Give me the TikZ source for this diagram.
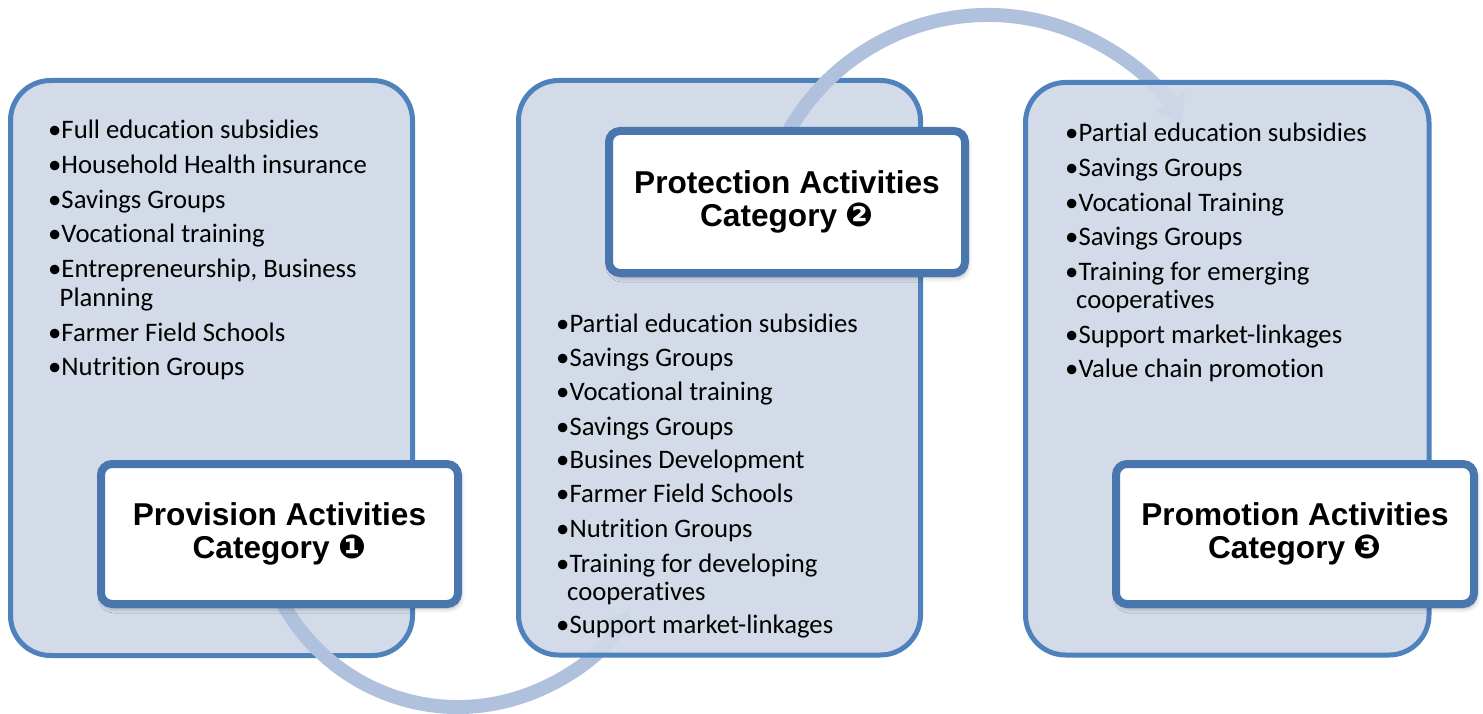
\documentclass[tikz,border=0pt]{standalone}
\usepackage{fontspec}
\setmainfont{Carlito}[Ligatures={NoCommon,NoContextual}]
\newfontfamily\headfont{Liberation Sans}
\newfontfamily\dingfont{DejaVu Sans}
\usetikzlibrary{arrows.meta,shadows.blur}

\definecolor{boxline}{HTML}{4F81BD}
\definecolor{boxfill}{HTML}{CFD8E7}
\definecolor{labline}{HTML}{4A76AE}
\definecolor{band}{HTML}{AFC1DC}

\tikzset{
  panel/.style={draw=boxline, line width=5pt, fill=boxfill, fill opacity=0.92,
    draw opacity=1, rounded corners=40pt, inner sep=0pt},
  label/.style={draw=labline, line width=8pt, fill=white, rounded corners=11pt,
    inner sep=0pt, align=center,
    font=\headfont\bfseries\fontsize{31.6}{33}\selectfont,
    blur shadow={shadow xshift=2pt, shadow yshift=-4pt, shadow blur radius=5pt,
      shadow opacity=35}},
  item/.style={anchor=base west, inner sep=0pt,
    font=\fontsize{26.7}{29}\selectfont},
  flow/.style={draw=band, line width=14pt,
    -{Triangle[width=34pt,length=24pt]}},
}
\newcommand{\dnum}[1]{{\dingfont\fontsize{33}{33}\selectfont #1}}

\begin{document}
\begin{tikzpicture}[x=1pt,y=-1pt]
\useasboundingbox (0,0) rectangle (1483,714);

% first panel and the arrow that leaves it
\node[panel, minimum width=402pt, minimum height=575pt] (boxA) at (211.5,368) {};
\coordinate (hub1) at (458,507);
\draw[flow] ([shift={(165:200)}]hub1) arc[start angle=165, end angle=31, radius=200];

% second panel and the arrow that leaves it
\node[panel, minimum width=402pt, minimum height=574.5pt] (boxB) at (719.5,367.75) {};
\coordinate (hub2) at (988,244);
\draw[flow] ([shift={(200:229)}]hub2) arc[start angle=200, end angle=328, radius=229];

% third panel
\node[panel, minimum width=403.5pt, minimum height=572.5pt] (boxC) at (1227.25,368.75) {};

% category labels
\node[label, minimum width=357pt, minimum height=140pt] (lab1) at (279.5,534)
  {Provision Activities\\Category \dnum{❶}};
\node[label, minimum width=356pt, minimum height=142pt] (lab2) at (787,202)
  {Protection Activities\\Category \dnum{❷}};
\node[label, minimum width=358pt, minimum height=140pt] (lab3) at (1295,534)
  {Promotion Activities\\Category \dnum{❸}};

% provision activities
\node[item] (a1) at (48,139) {•Full education subsidies};
\node[item] (a2) at (48,174) {•Household Health insurance};
\node[item] (a3) at (48,208) {•Savings Groups};
\node[item] (a4) at (48,243) {•Vocational training};
\node[item] (a5) at (48,277) {•Entrepreneurship, Business};
\node[item] (a5b) at (59.5,306) {Planning};
\node[item] (a6) at (48,341) {•Farmer Field Schools};
\node[item] (a7) at (48,375) {•Nutrition Groups};

% protection activities
\node[item] (b1) at (556,332) {•Partial education subsidies};
\node[item] (b2) at (556,366) {•Savings Groups};
\node[item] (b3) at (556,400) {•Vocational training};
\node[item] (b4) at (556,435) {•Savings Groups};
\node[item] (b5) at (556,468) {•Busines Development};
\node[item] (b6) at (556,502) {•Farmer Field Schools};
\node[item] (b7) at (556,537) {•Nutrition Groups};
\node[item] (b8) at (556,572) {•Training for developing};
\node[item] (b8b) at (567,600) {cooperatives};
\node[item] (b9) at (556,633) {•Support market-linkages};

% promotion activities
\node[item] (c1) at (1065,142) {•Partial education subsidies};
\node[item] (c2) at (1065,177) {•Savings Groups};
\node[item] (c3) at (1065,212) {•Vocational Training};
\node[item] (c4) at (1065,245) {•Savings Groups};
\node[item] (c5) at (1065,280) {•Training for emerging};
\node[item] (c5b) at (1076,308) {cooperatives};
\node[item] (c6) at (1065,343) {•Support market-linkages};
\node[item] (c7) at (1065,377) {•Value chain promotion};
\end{tikzpicture}
\end{document}
